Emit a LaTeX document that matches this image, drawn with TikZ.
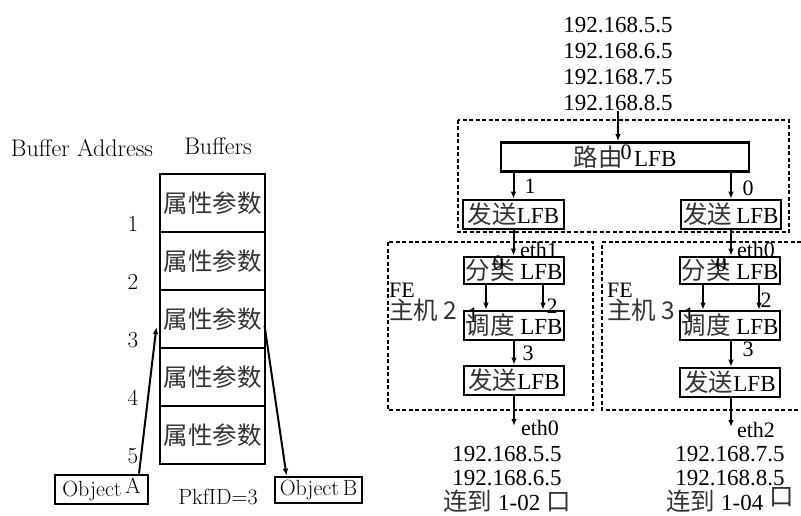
\documentclass[tikz,border=0pt]{standalone}
\usepackage{fontspec}
\newfontfamily\tnr{Liberation Serif}
\newfontfamily\cjk{Noto Sans CJK SC}
\newcommand\zh[1]{{\cjk\fontsize{24.5}{27}\selectfont\color{black!80}#1}}
\usetikzlibrary{arrows.meta}

\begin{document}
\begin{tikzpicture}[x=1pt,y=-1pt,
  lfb/.style={draw,line width=2.6pt,minimum width=100pt,minimum height=29pt,inner sep=0pt,font=\tnr\fontsize{23}{24}\selectfont},
  cell/.style={draw,line width=1.2pt,minimum width=105pt,minimum height=58pt,inner sep=0pt,font=\cjk\fontsize{24.5}{27}\selectfont,text=black!80},
  fe/.style={line width=2pt,dash pattern=on 4pt off 2.5pt},
  flow/.style={-{Latex[length=7pt,width=5.5pt]},line width=2pt},
  lbl/.style={font=\tnr\fontsize{22}{24}\selectfont,inner sep=0pt},
  lmtext/.style={font=\fontsize{23}{25}\selectfont,inner sep=0pt}]
\useasboundingbox (0,0) rectangle (801,516);

% buffers
\node[lmtext,font=\fontsize{24}{26}\selectfont] (hdaddr) at (82,148) {Buffer Address};
\node[lmtext,font=\fontsize{24}{26}\selectfont] (hdbuf) at (218,146) {Buffers};
\foreach \i in {1,...,5}{
  \node[cell] (buf\i) at (212.5,{174+58*(\i-0.5)}) {属性参数};
  \node[lmtext] (num\i) at (133,{224+58*(\i-1)}) {\i};
}
\node[lmtext,font=\fontsize{22}{23}\selectfont,draw,line width=2.6pt,minimum width=93pt,minimum height=29pt] (objA) at (101.5,489.5) {Object\,\raisebox{3pt}{A}};
\node[lmtext,font=\fontsize{22}{23}\selectfont,draw,line width=2.6pt,minimum width=87pt,minimum height=26pt] (objB) at (318.5,490) {Object\,B};
\node[lmtext,font=\fontsize{22}{24}\selectfont] (pkf) at (218,497) {PkfID=3};
\draw[flow] ([xshift=37.5pt]objA.north) -- ([shift={(-3,8)}]buf3.west);
\draw[flow] ([shift={(-1,7)}]buf3.east) -- ([xshift=-32pt]objB.north);

% CE side
\node[lbl,align=center,font=\tnr\fontsize{23}{25.7}\selectfont] (ipin) at (618,64) {192.168.5.5\\192.168.6.5\\192.168.7.5\\192.168.8.5};
\draw[fe] (458,120) rectangle (789,232);
\node[lfb,minimum width=248pt] (route) at (625,157) {\zh{路由}\ \ LFB};
\draw[flow] (ipin.south) -- (ipin.south |- route.north);
\node[lbl] (r0) at (626,152) {0};
\node[lfb,minimum width=101pt] (tx1) at (513.5,214.5) {\zh{发送}LFB};
\node[lfb] (tx2) at (731,214.5) {\zh{发送}\,LFB};
\draw[flow] (route.south -| tx1) -- (tx1.north);
\draw[flow] (route.south -| tx2) -- (tx2.north);
\node[lbl] (r1) at (530,186) {1};
\node[lbl] (r2) at (748,188) {0};

% FE host 2
\draw[fe] (388,242) rectangle (593,410);
\node[lbl,anchor=north west,align=left,font=\tnr\fontsize{22}{22}\selectfont] (fe1) at (389,283) {FE\\\zh{主机 2}};
\node[lfb,minimum height=27pt] (cls1) at (514,270.5) {\zh{分类} LFB};
\node[lfb] (sch1) at (514,325.5) {\zh{调度} LFB};
\node[lfb] (snd1) at (514,380.5) {\zh{发送}LFB};
\draw[flow] (tx1.south) -- (tx1.south |- cls1.north);
\draw[flow] ([xshift=-28pt]cls1.south) -- ([xshift=-28pt]sch1.north);
\draw[flow] ([xshift=29pt]cls1.south) -- ([xshift=29pt]sch1.north);
\draw[flow] (sch1.south) -- (snd1.north);
\coordinate (out1) at (514,426);
\draw[flow] (snd1.south) -- (out1);
\node[lbl] (eth1) at (539,250) {eth1};
\node[lbl] (eth0a) at (540,428) {eth0};
\node[lbl] (c0a) at (498,263) {0};
\node[lbl] (c1a) at (473,315) {1};
\node[lbl] (c2a) at (552,306) {2};
\node[lbl] (c3a) at (528,353) {3};
\node[lbl,align=center,font=\tnr\fontsize{23}{24.5}\selectfont] (ip1) at (507,479) {192.168.5.5\\192.168.6.5\\\zh{连到} 1-02 \zh{口}};

% FE host 3
\draw[fe] (801,242) -- (602,242) -- (602,410) -- (801,410);
\node[lbl,anchor=north west,align=left,font=\tnr\fontsize{22}{22}\selectfont] (fe2) at (607,283) {FE\\\zh{主机 3}};
\node[lfb,minimum height=27pt] (cls2) at (730,270.5) {\zh{分类} LFB};
\node[lfb] (sch2) at (730,325.5) {\zh{调度} LFB};
\node[lfb] (snd2) at (730,382.5) {\zh{发送}LFB};
\draw[flow] (tx2.south) -- (tx2.south |- cls2.north);
\draw[flow] ([xshift=-27pt]cls2.south) -- ([xshift=-27pt]sch2.north);
\draw[flow] ([xshift=29pt]cls2.south) -- ([xshift=29pt]sch2.north);
\draw[flow] (sch2.south -| tx2) -- (snd2.north -| tx2);
\coordinate (out2) at (731,427);
\draw[flow] (snd2.south -| tx2) -- (out2);
\node[lbl] (eth0b) at (756,250) {eth0};
\node[lbl] (eth2) at (756,430) {eth2};
\node[lbl] (c0b) at (721,264) {0};
\node[lbl] (c1b) at (689,315) {1};
\node[lbl] (c2b) at (766,300) {2};
\node[lbl] (c3b) at (748,349) {3};
\node[lbl,align=center,font=\tnr\fontsize{23}{24.5}\selectfont] (ip2) at (730,479) {192.168.7.5\\192.168.8.5\\\zh{连到} 1-04 \raisebox{5pt}{\zh{口}}};
\end{tikzpicture}
\end{document}
